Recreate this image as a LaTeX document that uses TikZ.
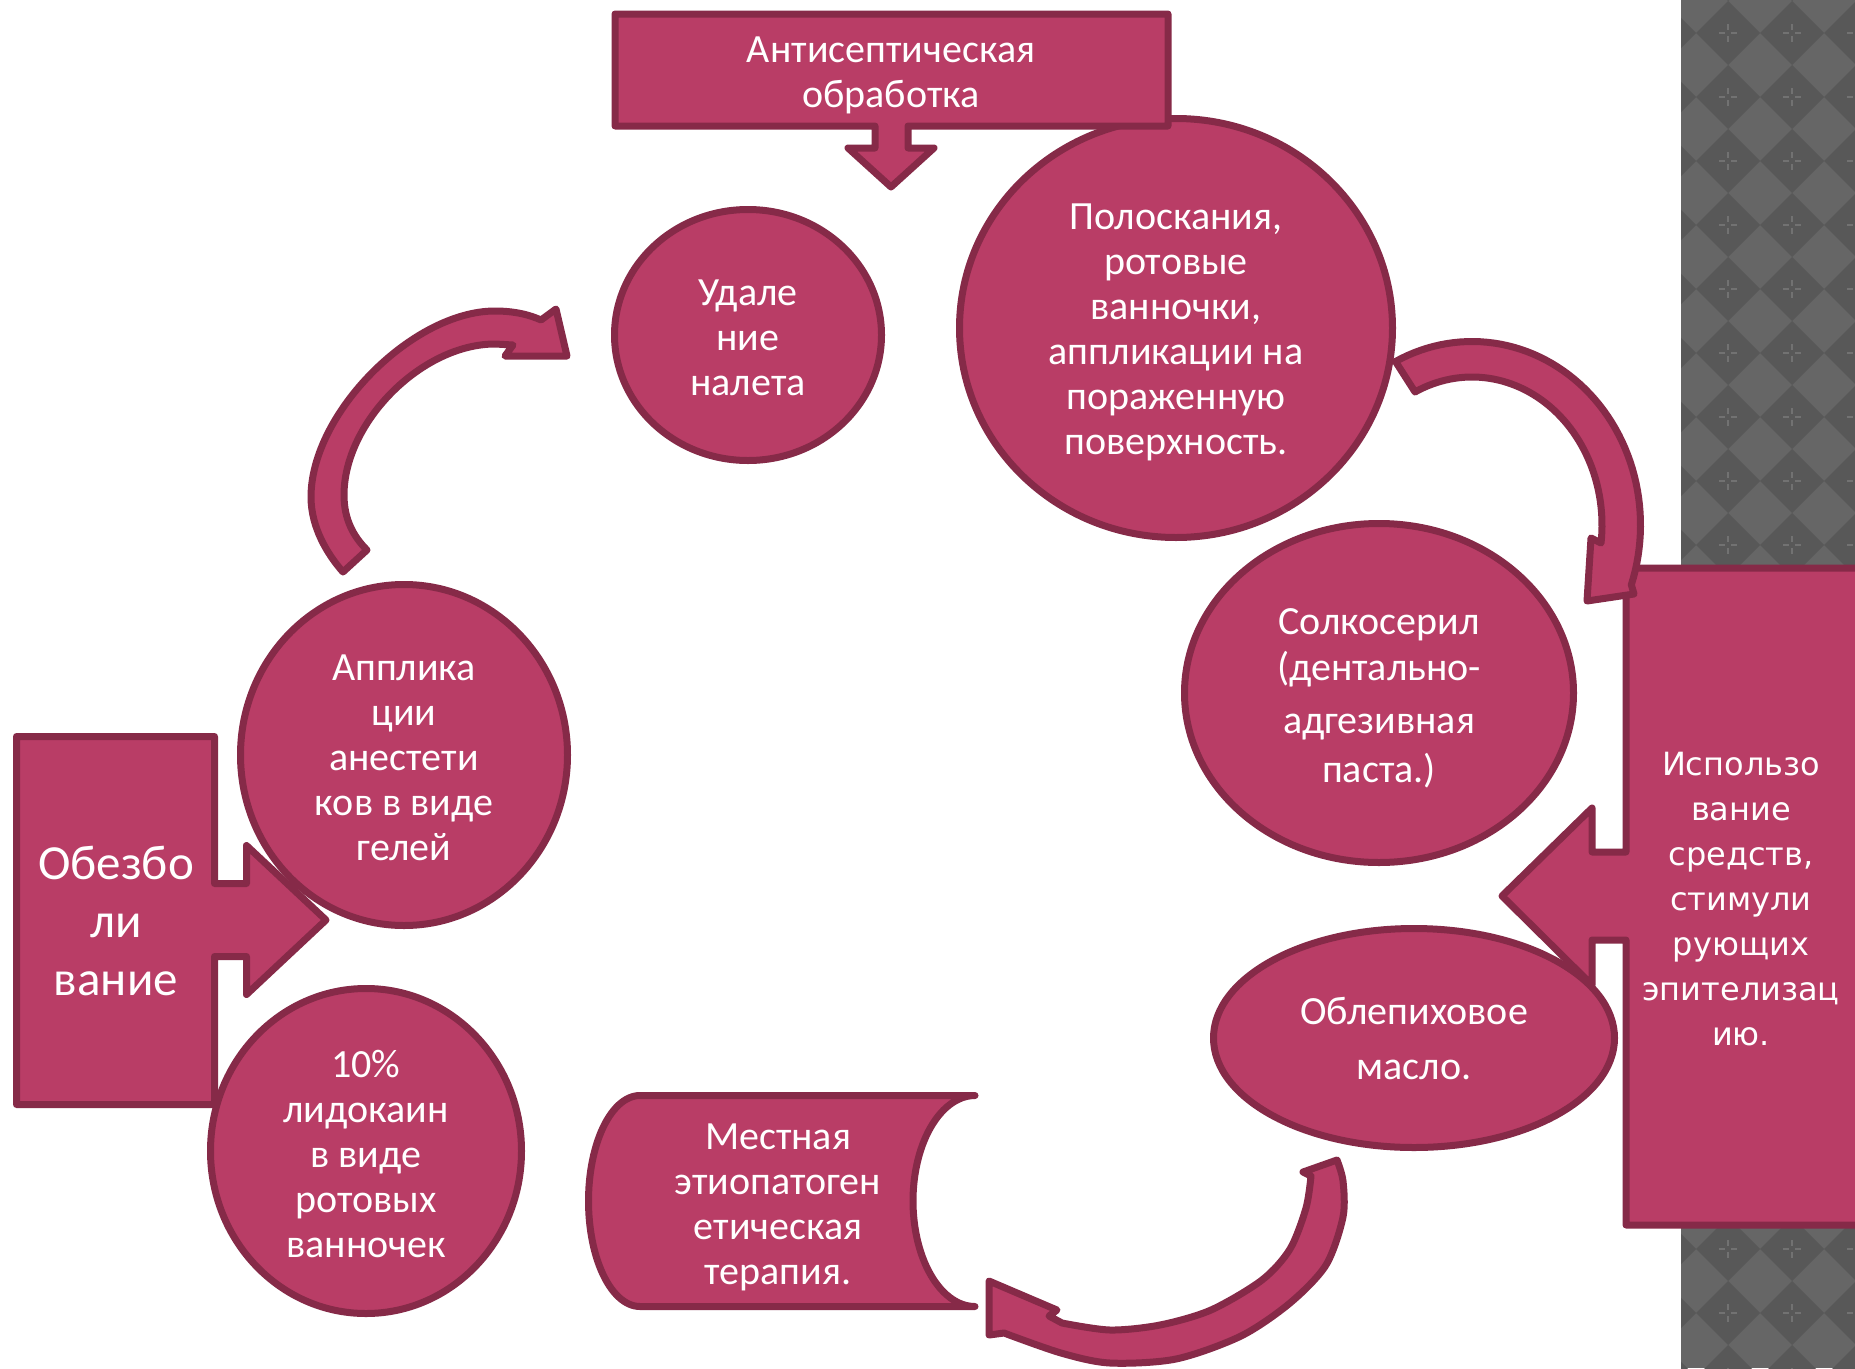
\documentclass[tikz,border=0pt]{standalone}
\usepackage{fontspec}
\setmainfont{Carlito}
\newfontfamily\widefont{DejaVu Sans}
\usetikzlibrary{shapes.geometric}
\definecolor{plum}{HTML}{B93D66}
\definecolor{plumdark}{HTML}{862A48}
\definecolor{tiledark}{HTML}{585858}
\definecolor{tilelight}{HTML}{666666}
\definecolor{tilecross}{HTML}{727272}
\tikzset{
  shapefill/.style={fill=plum, draw=plumdark, line width=7pt, line join=round},
  bubble/.style={shapefill, ellipse, inner sep=0pt},
  caption/.style={text=white, align=center, inner sep=0pt,
                  font=\fontsize{40}{45}\selectfont},
}
\begin{document}
\begin{tikzpicture}[x=1pt,y=-1pt]
\useasboundingbox (0,0) rectangle (1855,1368);
\clip (0,0) rectangle (1855,1368);
\fill[white] (0,0) rectangle (1855,1368);

% tiled strip on the right
\begin{scope}
  \clip (1681,0) rectangle (1855,1368);
  \fill[tilelight] (1681,0) rectangle (1855,1368);
  \foreach \i in {-1,...,2} {
    \foreach \j in {-1,...,21} {
      \begin{scope}[shift={({1728+64*\i},{33+64*\j})}]
        \fill[tiledark] (-32,0) -- (0,-32) -- (32,0) -- (0,32) -- cycle;
        \draw[tilecross, line width=1.2pt]
          (-9,0) -- (-3,0) (3,0) -- (9,0) (0,-9) -- (0,-3) (0,3) -- (0,9);
      \end{scope}
    }
  }
\end{scope}

% rinsing
\node[bubble, minimum width=433, minimum height=419] (rinse) at (1176,328) {};
\node[caption] (rinse-text) at ([yshift=-4pt]rinse.center)
  {Полоскания,\\ротовые\\ванночки,\\аппликации на\\пораженную\\поверхность.};

% antiseptic callout pointing down
\draw[shapefill] (615,14) -- (1168,14) -- (1168,126) -- (908,126) -- (908,148)
  -- (934,148) -- (891,187) -- (848,148) -- (875,148) -- (875,126) -- (615,126) -- cycle;
\node[caption] (antiseptic) at (891,75) {Антисептическая\\обработка};

% plaque removal
\node[bubble, minimum width=267, minimum height=251] (plaque) at (748,335) {};
\node[caption] (plaque-text) at ([yshift=-3pt]plaque.center) {Удале\\ние\\налета};

% solcoseryl
\node[bubble, minimum width=389, minimum height=339] (solco) at (1379,693) {};
\node[caption] (solco-text) at ([yshift=-5pt]solco.center)
  {Солкосерил\\[1pt](дентально-\\[8pt]адгезивная\\[4pt]паста.)};

% sea buckthorn oil
\node[bubble, minimum width=401, minimum height=219] (oil) at (1414,1038) {};
\node[caption] (oil-text) at ([yshift=-1pt]oil.center) {Облепиховое\\[10pt]масло.};

% epithelisation callout pointing left
\draw[shapefill] (1626,568) -- (1875,568) -- (1875,1225) -- (1626,1225) -- (1626,940)
  -- (1592,940) -- (1592,985) -- (1502,896) -- (1592,808) -- (1592,852) -- (1626,852) -- cycle;
\node[caption, font=\widefont\fontsize{32}{45}\selectfont] (epith) at (1741,899)
  {Использо\\вание\\средств,\\стимули\\рующих\\эпителизац\\ию.};

% curved arrow: rinsing -> solcoseryl
\draw[shapefill]
  plot[variable=\t, domain=243:379, samples=60] ({1472+168.5*cos(\t)},{525+183.5*sin(\t)})
  -- (1634,594) -- (1587,601) -- (1591,538)
  -- plot[variable=\t, domain=0:123, samples=60] ({1472+130*cos(367-\t)},{525+148*sin(367-\t)})
  -- cycle;

% local therapy (stored-data shape)
\draw[shapefill] (975,1095.5) -- (640,1095.5)
  -- plot[variable=\t, domain=0:180, samples=60] ({640+51.5*cos(270-\t)},{1201+105.5*sin(270-\t)})
  -- (975,1306.5)
  -- plot[variable=\t, domain=90:270, samples=60] ({975+62*cos(\t)},{1201+105.5*sin(\t)})
  -- cycle;
\node[caption] (local) at (778,1207)
  {Местная\\этиопатоген\\етическая\\терапия.};

% curved arrow: oil -> local therapy
\draw[shapefill]
  plot[smooth] coordinates {(1337,1160) (1343,1181) (1343,1217) (1326,1265) (1290,1303)
    (1241,1336) (1176,1359) (1110,1363) (1061,1353) (1004,1333)}
  -- (989,1335) -- (989,1281) -- (1057,1310) -- (1049,1316)
  -- plot[smooth] coordinates {(1062,1323) (1110,1330) (1160,1325) (1211,1310) (1262,1280)
    (1290,1249) (1306,1208) (1311,1176)}
  -- (1303,1172) -- cycle;

% anaesthesia callout pointing right
\draw[shapefill] (16.5,736.5) -- (214.5,736.5) -- (214.5,883.5) -- (246.5,883.5) -- (246.5,845.5)
  -- (326,920) -- (246.5,994.5) -- (246.5,956.5) -- (214.5,956.5) -- (214.5,1104.5)
  -- (16.5,1104.5) -- cycle;
\node[caption, font=\fontsize{49}{58}\selectfont] (anaesth) at (116,921)
  {Обезбо\\ли\\вание};

% gels
\node[bubble, minimum width=327, minimum height=341] (gels) at (404,755) {};
\node[caption] (gels-text) at ([yshift=-3pt]gels.center)
  {Апплика\\ции\\анестети\\ков в виде\\гелей};

% lidocaine
\node[bubble, minimum width=311, minimum height=325] (lido) at (366,1151) {};
\node[caption] (lido-text) at ([yshift=-3pt]lido.center)
  {10\%\\лидокаин\\в виде\\ротовых\\ванночек};

% curved arrow: gels -> plaque removal
\draw[shapefill]
  (343,572) .. controls (328,555) and (311,528) .. (311,497)
  .. controls (311,413) and (413,311) .. (495,311)
  .. controls (515,311) and (530,315) .. (541,320)
  -- (556,309) -- (567,356) -- (505,356) -- (513,345) -- (495,344)
  .. controls (422,344) and (344,422) .. (344,495)
  .. controls (344,520) and (354,537) .. (367,550)
  -- cycle;
\end{tikzpicture}
\end{document}
